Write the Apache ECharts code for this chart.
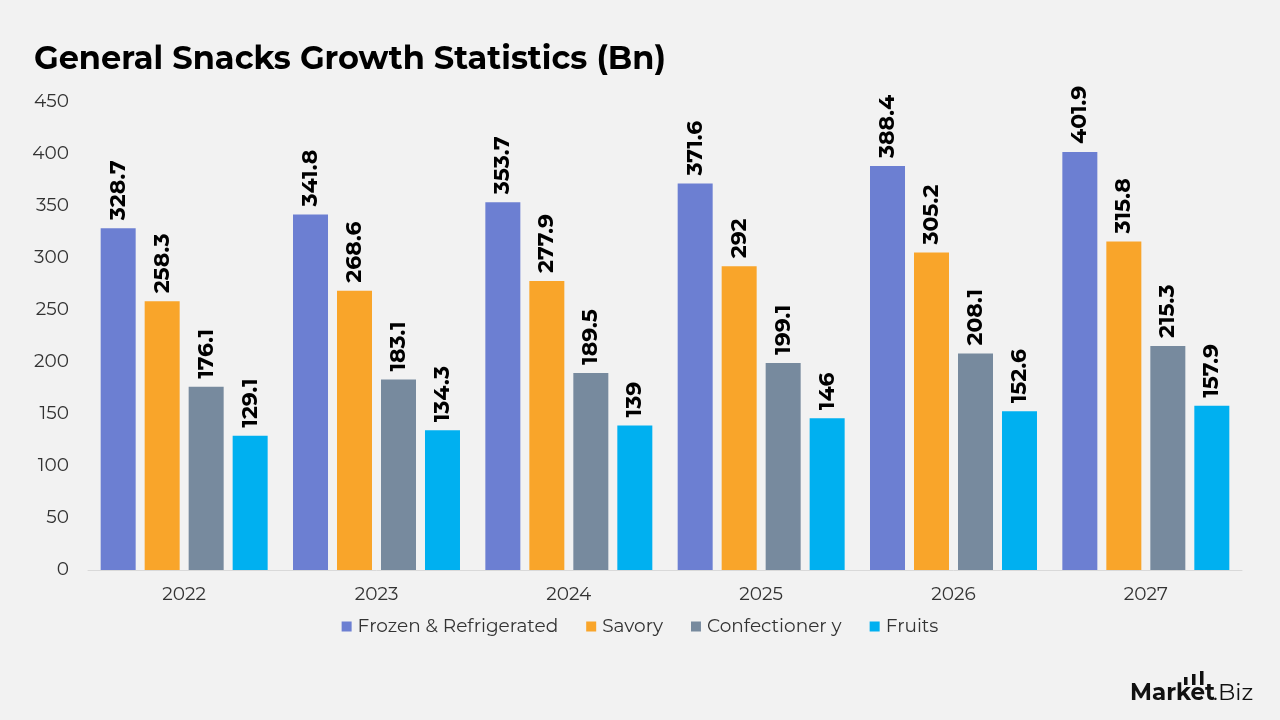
<!DOCTYPE html>
<html>
<head>
<meta charset="utf-8">
<script src="https://cdn.jsdelivr.net/npm/echarts@6/dist/echarts.min.js"></script>
<style>
html,body{margin:0;padding:0;background:#f2f2f2;}
#main{width:1280px;height:720px;}
</style>
</head>
<body>
<div id="main"></div>
<script>
const categories = ['2022','2023','2024','2025','2026','2027'];
const frozen = [328.7, 341.8, 353.7, 371.6, 388.4, 401.9];
const savory = [258.3, 268.6, 277.9, 292, 305.2, 315.8];
const confectionery = [176.1, 183.1, 189.5, 199.1, 208.1, 215.3];
const fruits = [129.1, 134.3, 139, 146, 152.6, 157.9];
const seriesNames = ['Frozen & Refrigerated', 'Savory', 'Confectioner y', 'Fruits'];
const colors = ['#6c7fd2', '#f9a52a', '#778a9e', '#00b0f0'];
const yTicks = [0, 50, 100, 150, 200, 250, 300, 350, 400, 450];

const FONT = 'Montserrat, "Open Sans", sans-serif';
const chart = echarts.init(document.getElementById('main'));
const dataSets = [frozen, savory, confectionery, fruits];

chart.setOption({
  backgroundColor: '#f2f2f2',
  title: {
    text: 'General Snacks Growth Statistics (Bn)',
    left: 29, top: 39,
    textStyle: {fontFamily: FONT, fontWeight: 'bold', fontSize: 32, color: '#000'}
  },
  legend: {
    bottom: 79,
    left: 'center',
    itemWidth: 10, itemHeight: 10, itemGap: 28,
    icon: 'rect',
    textStyle: {fontFamily: FONT, fontSize: 18.5, color: '#333', padding: [0, 0, 0, 1]},
    data: seriesNames
  },
  grid: {left: 88, right: 38, top: 102, bottom: 150},
  xAxis: {
    type: 'category',
    data: categories,
    axisLine: {lineStyle: {color: '#d9d9d9', width: 1}},
    axisTick: {show: false},
    axisLabel: {fontFamily: FONT, fontSize: 18.5, color: '#333', margin: 15}
  },
  yAxis: {
    type: 'value',
    min: yTicks[0], max: yTicks[yTicks.length - 1], interval: 50,
    splitLine: {show: false},
    axisLine: {show: false},
    axisTick: {show: false},
    axisLabel: {fontFamily: FONT, fontSize: 18.5, color: '#333', margin: 19}
  },
  series: dataSets.map((d, i) => ({
    name: seriesNames[i],
    type: 'bar',
    data: d,
    barWidth: 35,
    barGap: '25.7%',
    itemStyle: {color: colors[i]},
    label: {
      show: true,
      position: 'top',
      rotate: 90,
      align: 'left',
      verticalAlign: 'middle',
      distance: 8,
      fontFamily: FONT,
      fontWeight: 'bold',
      fontSize: 22,
      color: '#000'
    }
  })),
  graphic: [
    {type: 'text', left: 1130, top: 682, style: {text: 'Market', font: 'bold 23px ' + FONT, fill: '#111'}},
    {type: 'text', left: 1213, top: 682, style: {text: '.Biz', font: '23px ' + FONT, fill: '#111'}},
    {type: 'rect', shape: {x: 1184, y: 677, width: 3.5, height: 8}, style: {fill: '#111'}},
    {type: 'rect', shape: {x: 1192, y: 674, width: 3.5, height: 11}, style: {fill: '#111'}},
    {type: 'rect', shape: {x: 1200, y: 671, width: 3.5, height: 14}, style: {fill: '#111'}}
  ]
});
</script>
</body>
</html>
